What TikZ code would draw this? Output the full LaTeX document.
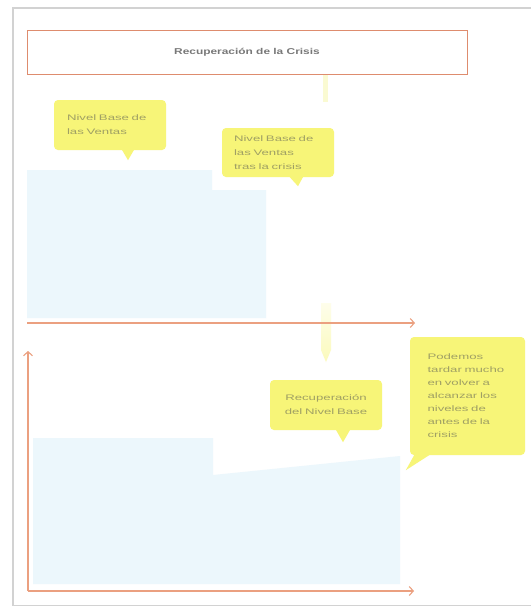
\documentclass[tikz,border=0pt]{standalone}
\usepackage{fontspec}
\setmainfont{Liberation Sans}
\newfontfamily\callfont[FakeStretch=1.65]{Liberation Sans}
\newfontfamily\titlefont[FakeStretch=1.4]{Liberation Sans}
\usetikzlibrary{arrows.meta}
\definecolor{cyel}{RGB}{247,245,120}
\definecolor{ctxt}{RGB}{160,160,100}
\definecolor{cblue}{RGB}{236,247,252}
\definecolor{corange}{RGB}{235,160,128}
\definecolor{cframe}{RGB}{222,140,110}
\definecolor{cgrey}{RGB}{210,210,210}
\definecolor{ttext}{RGB}{120,120,120}
\definecolor{cpale}{RGB}{250,250,210}
\begin{document}
\begin{tikzpicture}[x=1pt,y=-1pt,
  callout/.style={fill=cyel, rounded corners=4pt, font=\callfont\fontsize{8}{14}\selectfont, text=ctxt, inner ysep=0pt},
  tail/.style={fill=cyel},
  axis/.style={draw=corange, line width=1.1pt, -{Straight Barb[length=4pt,width=9pt]}},
  band/.style={fill=cblue}]
\useasboundingbox (0,0) rectangle (531,606);
\fill[white] (0,0) rectangle (531,606);
\draw[cgrey, line width=1.2pt] (13,606) -- (13,8) -- (531,8);
\draw[cgrey] (13,605) -- (531,605);

% light blue bands
\fill[band] (27,170) -- (212,170) -- (212,190) -- (266,190) -- (266,318) -- (27,318) -- cycle;
\fill[band] (33,438) -- (213,438) -- (213,475) -- (400,456) -- (400,584) -- (33,584) -- cycle;

% title
\node[draw=cframe, line width=1pt, minimum width=440pt, minimum height=44pt,
      font=\titlefont\bfseries\fontsize{8.5}{10}\selectfont, text=ttext] (title) at (247,52) {Recuperación de la Crisis};

% pale yellow line under title
\coordinate (ya1) at (325,75);
\coordinate (ya2) at (325,102);
\draw[cpale, line width=5pt] (ya1) -- (ya2);

% yellow down arrow
\shade[top color=cyel!15, middle color=cyel, bottom color=cyel!50]
  (321,303) -- (331,303) -- (331,350) -- (326,362) -- (321,350) -- cycle;

% axes
\coordinate (o1) at (27,323);
\coordinate (e1) at (415,323);
\coordinate (o2) at (28,591);
\coordinate (e2) at (414,591);
\coordinate (yt) at (28,351);
\draw[axis] (o1) -- (e1);
\draw[axis] (o2) -- (e2);
\draw[axis] (o2) -- (yt);

% callouts
\node[callout, text width=86pt, inner xsep=13pt, minimum height=50pt, align=left] (c1) at (110,125)
  {Nivel Base de\\las Ventas};
\fill[tail] ([xshift=11pt,yshift=2pt]c1.south) -- ([xshift=25pt,yshift=2pt]c1.south) -- ([xshift=18pt,yshift=-10pt]c1.south) -- cycle;

\node[callout, text width=88pt, inner xsep=12pt, minimum height=49pt, align=left] (c2) at (278,152.5)
  {Nivel Base de\\las Ventas\\tras la crisis};
\fill[tail] ([xshift=10pt,yshift=2pt]c2.south) -- ([xshift=26pt,yshift=2pt]c2.south) -- ([xshift=20pt,yshift=-9pt]c2.south) -- cycle;

\node[callout, text width=90pt, inner xsep=11pt, minimum height=50pt, align=center] (c3) at (326,405)
  {Recuperación\\del Nivel Base};
\fill[tail] ([xshift=9pt,yshift=2pt]c3.south) -- ([xshift=25pt,yshift=2pt]c3.south) -- ([xshift=17pt,yshift=-12pt]c3.south) -- cycle;

\node[callout, text width=80pt, inner xsep=17.5pt, minimum height=118pt, align=left, font=\callfont\fontsize{8}{13}\selectfont] (c4) at (467.5,396)
  {Podemos\\tardar mucho\\en volver a\\alcanzar los\\niveles de\\antes de la\\crisis};
\fill[tail] ([xshift=6pt,yshift=3pt]c4.south west) -- ([xshift=24pt,yshift=3pt]c4.south west) -- ([xshift=-4pt,yshift=-15pt]c4.south west) -- cycle;
\end{tikzpicture}
\end{document}
